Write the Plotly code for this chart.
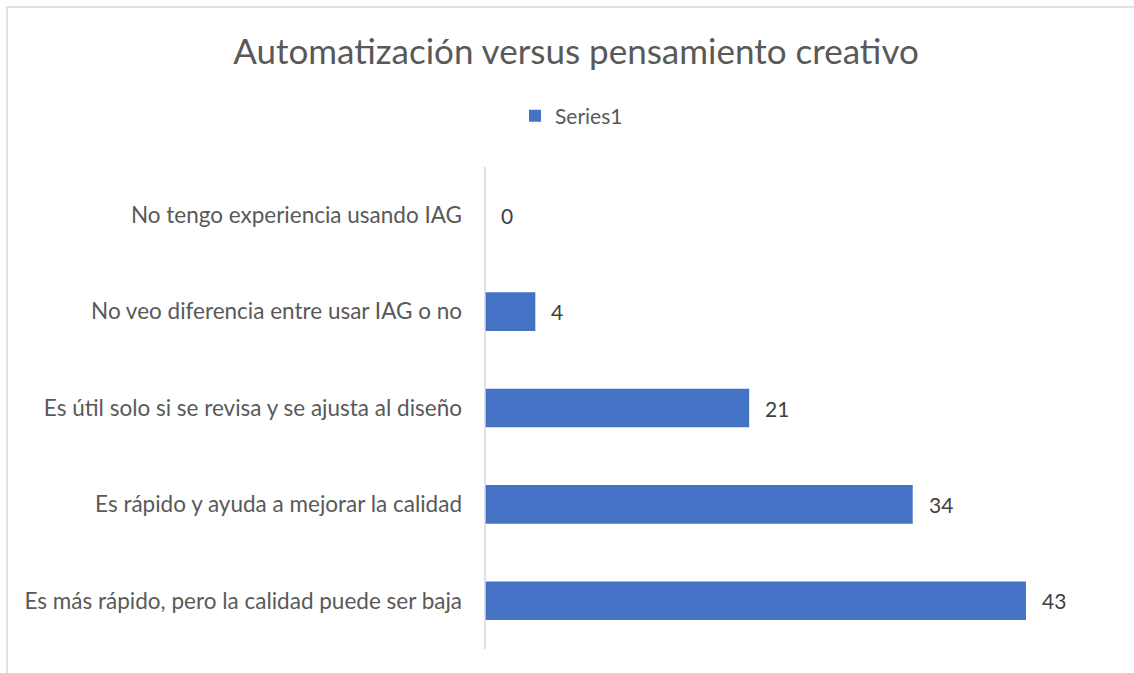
import plotly.graph_objects as go

categories = [
    "No tengo experiencia usando IAG",
    "No veo diferencia entre usar IAG o no",
    "Es útil solo si se revisa y se ajusta al diseño",
    "Es rápido y ayuda a mejorar la calidad",
    "Es más rápido, pero la calidad puede ser baja",
]
values = [0, 4, 21, 34, 43]
series_name = "Series1"
title_text = "Automatización versus pensamiento creativo"

W, H = 1134, 673
L, R, T, B = 485, 20, 167, 24
pw, ph = W - L - R, H - T - B
FONT = "Lato, sans-serif"

fig = go.Figure()
fig.add_trace(go.Bar(
    y=categories, x=values, orientation="h", name=series_name,
    marker=dict(color="#4472C4", line=dict(width=0)),
    showlegend=True,
))

annotations = []
for c, v in zip(categories, values):
    annotations.append(dict(
        x=v, y=c, xref="x", yref="y", text=str(v), showarrow=False,
        xanchor="left", yanchor="middle", xshift=14,
        font=dict(family=FONT, size=21, color="#404040"),
    ))

fig.update_layout(
    width=W, height=H,
    margin=dict(l=L, r=R, t=T, b=B),
    paper_bgcolor="white", plot_bgcolor="white",
    bargap=0.6,
    title=dict(text=title_text, x=576 / W, xref="container", xanchor="center",
               y=1 - 52 / H, yref="container", yanchor="middle",
               font=dict(family=FONT, size=35, color="#595959")),
    legend=dict(orientation="h", x=(515 - L) / pw, xanchor="left",
                y=(H - B - 116) / ph, yanchor="middle",
                font=dict(family=FONT, size=21, color="#595959"),
                itemwidth=30, bgcolor="rgba(0,0,0,0)"),
    xaxis=dict(range=[0, 50], visible=False, showgrid=False, zeroline=False),
    yaxis=dict(autorange="reversed", showgrid=False, zeroline=False,
               showline=False, ticks="", ticklabelstandoff=22,
               tickfont=dict(family=FONT, size=22.5, color="#595959")),
    annotations=annotations,
    shapes=[
        dict(type="line", xref="paper", yref="paper", x0=0, x1=0, y0=0, y1=1,
             line=dict(color="#d9d9d9", width=1.5)),
        dict(type="rect", xref="paper", yref="paper",
             x0=(7 - L) / pw, x1=(1140 - L) / pw,
             y0=(H - B - 680) / ph, y1=(H - B - 7) / ph,
             line=dict(color="#d9d9d9", width=1.5), layer="below"),
    ],
)

fig.write_html("out.html", config={"displayModeBar": False},
               post_script="document.body.style.margin='0';document.body.style.overflow='hidden';")
